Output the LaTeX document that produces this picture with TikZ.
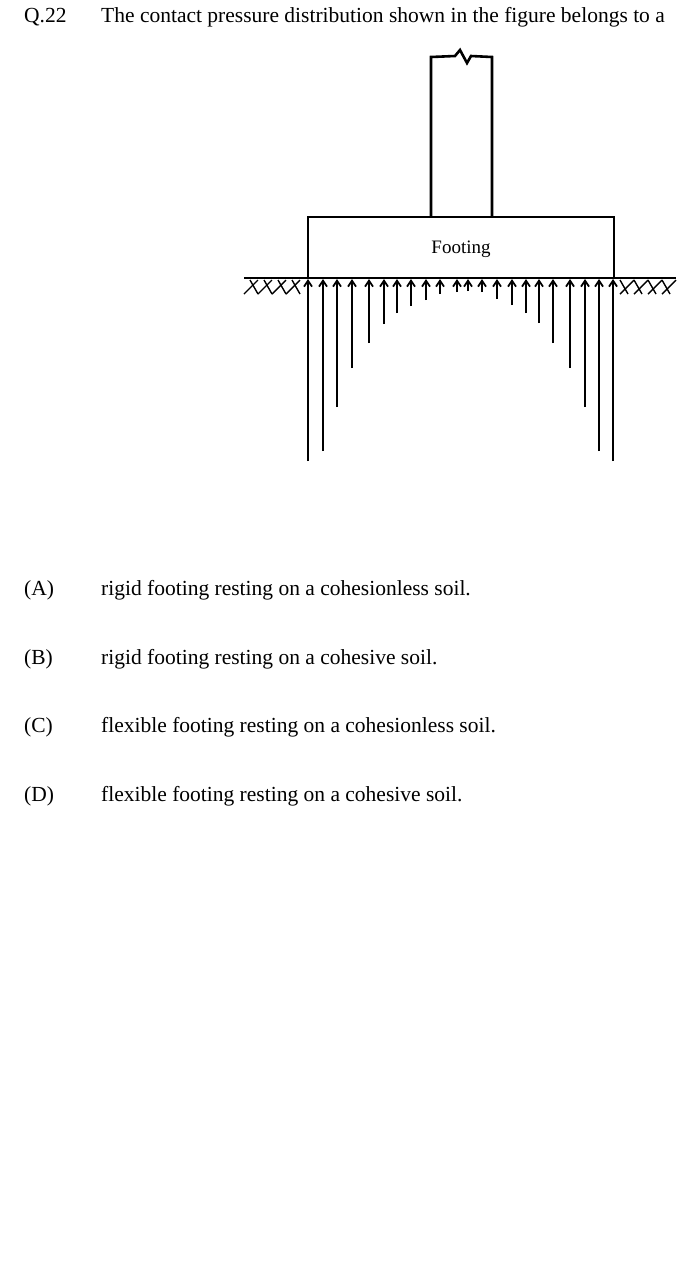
\documentclass[tikz,border=0pt]{standalone}
\usepackage{fontspec}
\setmainfont{Liberation Serif}
\usetikzlibrary{arrows.meta}
\begin{document}
\begin{tikzpicture}[
  x=1pt, y=-1pt,
  qtext/.style={anchor=base west, inner sep=0pt, font=\fontsize{21.5}{24}\selectfont},
  thick line/.style={line width=2.6pt},
  pressure/.style={line width=2pt, -{Straight Barb[length=6pt,width=8pt,line width=1.8pt]}}
  ]
  % page
  \useasboundingbox (0,0) rectangle (689,1262);
  % question
  \node[qtext] (qno) at (24,22) {Q.22};
  \node[qtext] (qtxt) at (101,22) {The contact pressure distribution shown in the figure belongs to a};

  % column with break line
  \draw[thick line] (431,217) -- (431,57) -- (455,56) -- (460,50) -- (467,63) -- (471,56) -- (492,57) -- (492,217);
  % footing
  \draw[thick line] (308,217) rectangle (614,278);
  \node[font=\fontsize{19}{21}\selectfont] (footing) at (461,249) {Footing};
  % ground line
  \draw[line width=2pt] (244,278) -- (676,278);
  % soil hatching
  \foreach \s in {244,258,272,286} {
    \draw[line width=1.4pt] (\s,294) -- (\s+14,280);
    \draw[line width=1.4pt] (\s+6,280) -- (\s+14,294);
  }
  \foreach \s in {620,634,648,662} {
    \draw[line width=1.4pt] (\s,294) -- (\s+14,280);
    \draw[line width=1.4pt] (\s,280) -- (\s+8,294);
  }
  % contact pressure arrows
  \foreach \px/\py in {308/461,323/451,337/407,352/368,369/343,384/324,397/313,411/306,
                       426/300,440/294,457/292,468/291,482/292,497/299,512/305,526/313,
                       539/323,553/343,570/368,585/407,599/451,613/461} {
    \draw[pressure] (\px,\py) -- (\px,279);
  }

  % options
  \node[qtext] (la) at (24,595) {(A)};
  \node[qtext] (ta) at (101,595) {rigid footing resting on a cohesionless soil.};
  \node[qtext] (lb) at (24,664) {(B)};
  \node[qtext] (tb) at (101,664) {rigid footing resting on a cohesive soil.};
  \node[qtext] (lc) at (24,732) {(C)};
  \node[qtext] (tc) at (101,732) {flexible footing resting on a cohesionless soil.};
  \node[qtext] (ld) at (24,801) {(D)};
  \node[qtext] (td) at (101,801) {flexible footing resting on a cohesive soil.};
\end{tikzpicture}
\end{document}
